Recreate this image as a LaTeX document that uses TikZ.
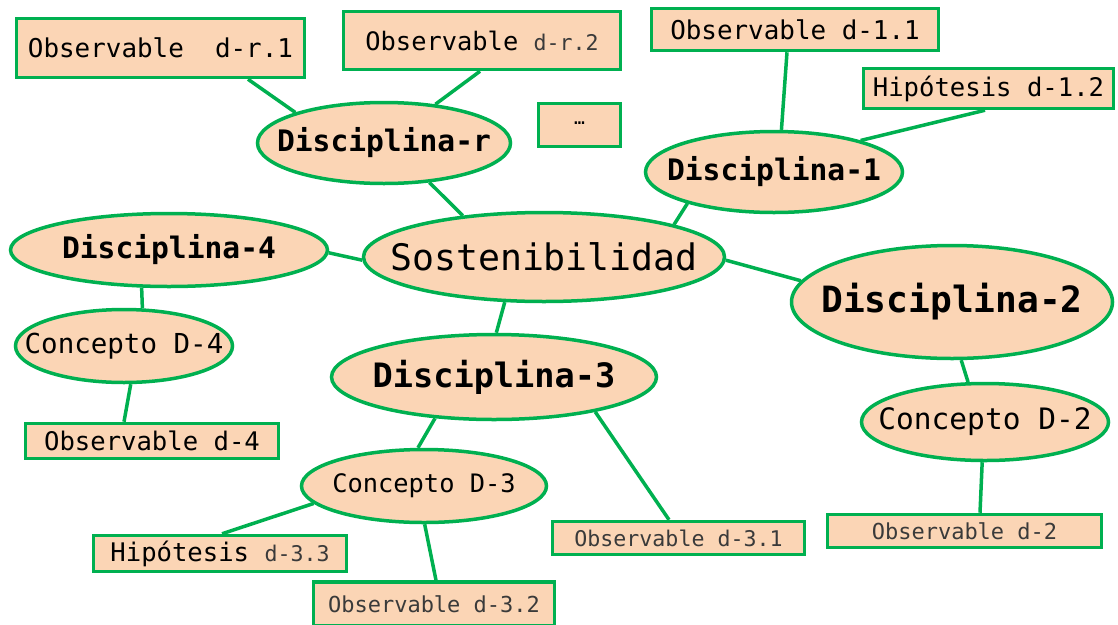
\documentclass[tikz,border=0pt]{standalone}
\usepackage{fontspec}
\setmainfont{DejaVu Sans Mono}
\usetikzlibrary{shapes.geometric}
\definecolor{peach}{HTML}{FBD5B5}
\definecolor{ogreen}{HTML}{00B050}
\definecolor{softgray}{HTML}{3A3A3A}
\newcommand\fsz[1]{\fontsize{#1}{#1}\selectfont}
\newcommand\ztext[1]{\makebox[0pt]{#1}}
\begin{document}
\begin{tikzpicture}[x=1pt,y=-1pt,
  box/.style={draw=ogreen, fill=peach, line width=3.5pt, rectangle, inner sep=0pt},
  oval/.style={draw=ogreen, fill=peach, line width=3.5pt, ellipse, inner sep=0pt},
  link/.style={draw=ogreen, line width=3.5pt}]
\useasboundingbox (0,0) rectangle (1118,624);
% boxes
\node[box, minimum width=288pt, minimum height=59pt] (dr1) at (160.5,48) {\fsz{25.9}Observable\ \ d-r.1};
\node[box, minimum width=277pt, minimum height=58pt] (dr2) at (482,40.5) {\fsz{25.4}Observable {\color{softgray}\fsz{21.6}d-r.2}};
\node[box, minimum width=82pt, minimum height=43pt] (dots) at (579.5,125) {\raisebox{4pt}{\fsz{18}…}};
\node[box, minimum width=287pt, minimum height=42pt] (d11) at (795,29.5) {\fsz{25.9}Observable d-1.1};
\node[box, minimum width=250pt, minimum height=40pt] (h12) at (988.5,88.5) {\fsz{25.6}Hipótesis d-1.2};
\node[box, minimum width=253pt, minimum height=35pt] (d4) at (152,441) {\fsz{25.6}Observable d-4};
\node[box, minimum width=252pt, minimum height=33pt] (d31) at (678.5,538) {\fsz{21.6}\color{softgray}Observable d-3.1};
\node[box, minimum width=274pt, minimum height=33pt] (d2) at (964.5,531) {\fsz{22}\color{softgray}Observable d-2};
\node[box, minimum width=253pt, minimum height=36pt] (h33) at (220,553.5) {\fsz{25.6}Hipótesis {\color{softgray}\fsz{21.6}d-3.3}};
\node[box, minimum width=241pt, minimum height=44pt] (d32) at (434,604) {\fsz{22}\color{softgray}Observable d-3.2};
% ellipses
\node[oval, minimum width=253pt, minimum height=81pt] (disr) at (384,143) {\ztext{\fsz{29.6}\bfseries Disciplina-r}};
\node[oval, minimum width=257pt, minimum height=81pt] (dis1) at (774,172) {\ztext{\fsz{29.6}\bfseries Disciplina-1}};
\node[oval, minimum width=361pt, minimum height=89pt] (sost) at (544,257) {\ztext{\fsz{36.5}Sostenibilidad}};
\node[oval, minimum width=317pt, minimum height=73pt] (dis4) at (169,250) {\ztext{\fsz{29.6}\bfseries Disciplina-4}};
\node[oval, minimum width=321pt, minimum height=113pt] (dis2) at (952,302) {\ztext{\fsz{36.2}\bfseries Disciplina-2}};
\node[oval, minimum width=217pt, minimum height=73pt] (c4) at (124,346) {\ztext{\fsz{27.5}Concepto D-4}};
\node[oval, minimum width=325pt, minimum height=85pt] (dis3) at (494,377) {\ztext{\fsz{33.6}\bfseries Disciplina-3}};
\node[oval, minimum width=247pt, minimum height=77pt] (c2) at (985,422) {\ztext{\fsz{29.5}Concepto D-2}};
\node[oval, minimum width=245pt, minimum height=73pt] (c3) at (424,486) {\ztext{\fsz{25.4}Concepto D-3}};
% links
\draw[link] ([xshift=87.5pt]dr1.south) -- (disr.161);
\draw[link] ([xshift=-2pt]dr2.south) -- (disr.37);
\draw[link] (disr.-41) -- (sost.153.4);
\draw[link] ([xshift=-8pt]d11.south) -- (dis1.80.5);
\draw[link] ([xshift=-3.5pt]h12.south) -- (dis1.20.9);
\draw[link] (dis1.200.6) -- (sost.14.8);
\draw[link] (dis4.-1) -- (sost.181);
\draw[link] (sost.-1.5) -- (dis2.172.7);
\draw[link] (sost.229.7) -- (dis3.87.4);
\draw[link] (dis4.234.6) -- (c4.64.6);
\draw[link] (c4.280.4) -- ([xshift=-28pt]d4.north);
\draw[link] (dis2.279.8) -- (c2.113.6);
\draw[link] (c2.266) -- ([xshift=15.5pt]d2.north);
\draw[link] (dis3.215.7) -- (c3.99.5);
\draw[link] (dis3.341.1) -- ([xshift=-9.5pt]d31.north);
\draw[link] (c3.189.2) -- ([xshift=2pt]h33.north);
\draw[link] (c3.271.5) -- ([xshift=2pt]d32.north);
\end{tikzpicture}
\end{document}
